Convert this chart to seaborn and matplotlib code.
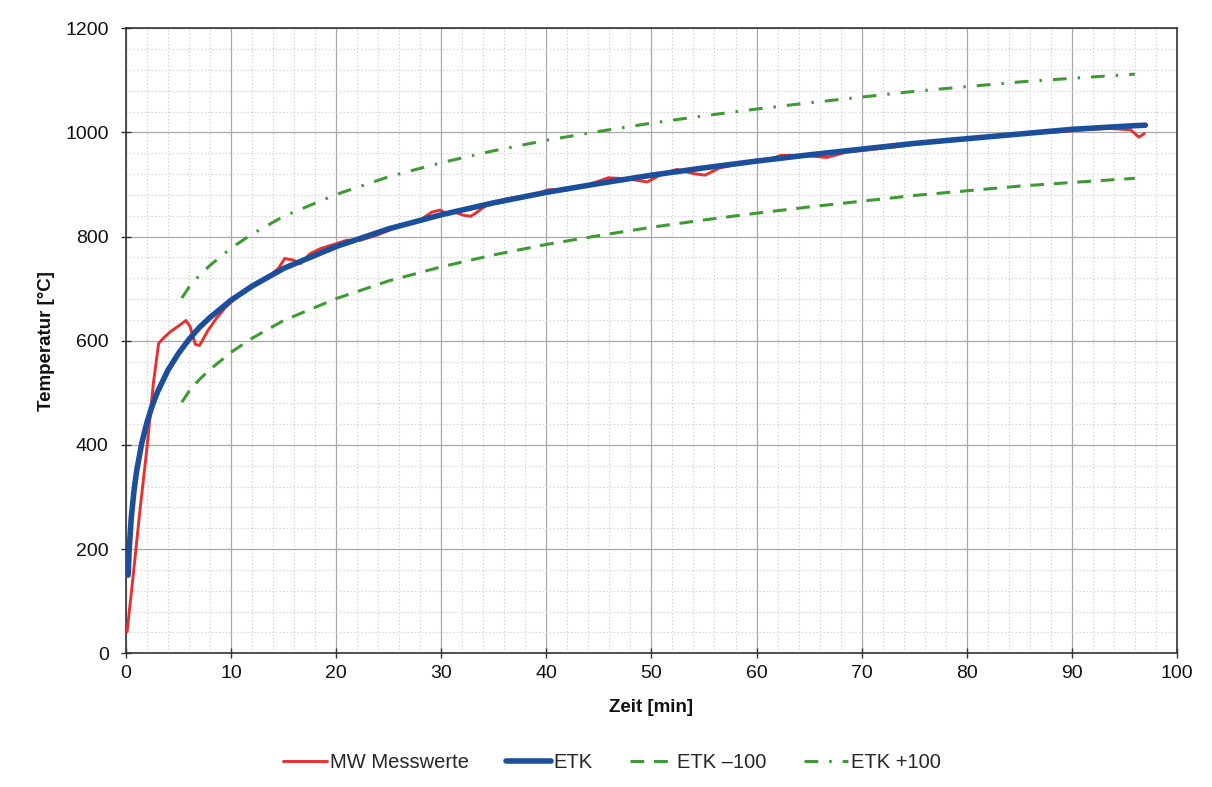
import matplotlib
matplotlib.use("Agg")
import matplotlib.pyplot as plt
import seaborn as sns
from matplotlib.ticker import MultipleLocator

# ---- data ----
mw_t = [0.1, 0.7, 1.3, 2.0, 2.6, 3.1, 3.6, 4.2, 5.1, 5.7, 6.1, 6.6, 7.0, 7.8, 8.6,
        9.5, 10.5, 12, 13.5, 14.5, 15.1, 15.9, 16.6, 17.5, 18.5, 20.1, 21.0, 22.3,
        23.9, 26, 28, 29.1, 29.9, 30.5, 31.3, 32.1, 32.8, 33.4, 34.5, 36.3, 37.2,
        38.5, 40.2, 42, 43.9, 45.9, 47.7, 49.6, 51, 52.4, 54.0, 55.1, 56.5, 58.5,
        60.1, 61, 62.3, 63.6, 65, 66.7, 68.5, 71.2, 73.5, 76.3, 79, 82, 84.5, 86.1,
        88, 91, 93.5, 95.6, 96.4, 96.9]
mw_val = [41, 153, 270, 396, 518, 595, 606, 617, 630, 639, 627, 593, 591, 620, 643,
          665, 683, 703, 722, 739, 758, 755, 748, 767, 777, 787, 793, 793,
          803, 820, 832, 847, 851, 844, 847, 841, 839, 847, 863, 873, 876,
          878, 890, 890, 899, 913, 911, 905, 920, 929, 921, 918, 932, 940,
          948, 947, 956, 956, 955, 952, 962, 968, 973, 982, 985, 991, 995, 999,
          1000, 1005, 1008, 1005, 991, 998]

etk_t = [0.2, 0.3, 0.5, 0.75, 1, 1.5, 2, 2.5, 3, 4, 5, 6, 7, 8, 10, 12, 15, 20, 25,
         30, 35, 40, 45, 50, 55, 60, 65, 70, 75, 80, 85, 90, 95, 97]
etk_val = [150, 200, 261, 311, 349, 404, 444, 476, 502, 544, 576, 603, 626, 645,
           678, 705, 739, 781, 815, 842, 865, 885, 902, 918, 932, 945, 957, 968,
           979, 988, 997, 1006, 1012, 1014]

band_t = [5.3, 6, 7, 8, 10, 12, 15, 20, 25, 30, 35, 40, 45, 50, 55, 60, 65, 70, 75,
          80, 85, 90, 96]
etk_minus = [482, 503, 526, 545, 578, 605, 639, 681, 715, 742, 765, 785, 802, 818,
             832, 845, 857, 868, 879, 888, 897, 904, 912]
etk_plus = [682, 703, 726, 745, 778, 805, 839, 881, 915, 942, 965, 985, 1002, 1018,
            1032, 1045, 1057, 1068, 1079, 1088, 1097, 1104, 1112]

labels = ["MW Messwerte", "ETK", "ETK \u2013100", "ETK +100"]
x_label = "Zeit [min]"
y_label = "Temperatur [°C]"

# ---- styling ----
sns.set_theme(style="white")
plt.rcParams["font.family"] = ["Liberation Sans", "DejaVu Sans"]

fig = plt.figure(figsize=(12.12, 7.87), dpi=100)
ax = fig.add_axes([0.104, 0.170, 0.867, 0.794])

green = "#3f9a36"
sns.lineplot(x=mw_t, y=mw_val, ax=ax, color="#e8312f", lw=2.1, label=labels[0], zorder=3)
sns.lineplot(x=etk_t, y=etk_val, ax=ax, color="#1b4f9c", lw=4.0, label=labels[1], zorder=4)
sns.lineplot(x=band_t, y=etk_minus, ax=ax, color=green, lw=2.2,
             ls=(0, (4.5, 3.2)), label=labels[2], zorder=2)
sns.lineplot(x=band_t, y=etk_plus, ax=ax, color=green, lw=2.2,
             ls=(0, (4.5, 3.6, 0.8, 3.6)), label=labels[3], zorder=2)

ax.set_xlim(0, 100)
ax.set_ylim(0, 1200)
ax.xaxis.set_major_locator(MultipleLocator(10))
ax.xaxis.set_minor_locator(MultipleLocator(2))
ax.yaxis.set_major_locator(MultipleLocator(200))
ax.yaxis.set_minor_locator(MultipleLocator(40))

ax.grid(which="major", color="#a8a8a8", lw=0.9, ls="-", zorder=0)
ax.grid(which="minor", color="#cfcfcf", lw=0.8, ls=(0, (1.2, 2.0)), zorder=0)
ax.set_axisbelow(True)

for s in ax.spines.values():
    s.set_color("#333333")
    s.set_linewidth(1.2)

ax.tick_params(axis="both", which="major", direction="inout", length=7, width=1.0,
               color="#333333", labelsize=14, labelcolor="#111111")
ax.tick_params(axis="y", which="major", pad=9, left=True)
ax.tick_params(axis="x", which="major", pad=5, bottom=True)
ax.tick_params(which="minor", length=0)

ax.set_xlabel(x_label, fontsize=13.5, fontweight="bold", labelpad=12, color="#111111")
ax.set_ylabel(y_label, fontsize=13.5, fontweight="bold", labelpad=7, color="#111111")

handles, labs = ax.get_legend_handles_labels()
ax.get_legend().remove()
fig.legend(handles, labs, loc="lower center", bbox_to_anchor=(0.505, -0.004), ncol=4,
           frameon=False, fontsize=14.5, handlelength=2.2, handletextpad=0.15,
           columnspacing=1.85)

fig.savefig("out.png", dpi=100)
